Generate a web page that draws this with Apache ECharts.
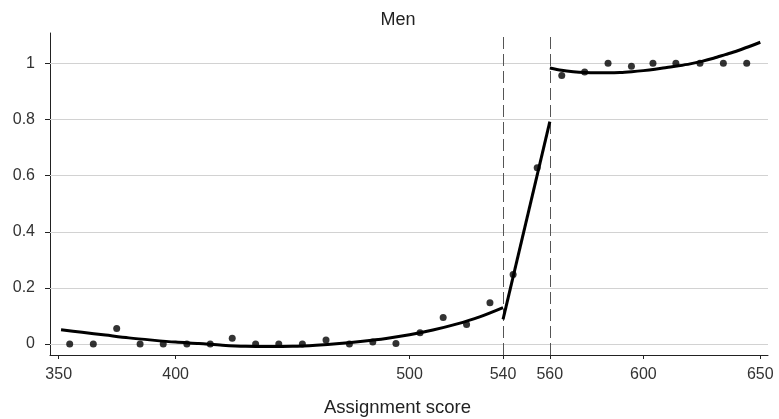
<!DOCTYPE html>
<html>
<head>
<meta charset="utf-8">
<script src="https://cdn.jsdelivr.net/npm/echarts@6/dist/echarts.min.js"></script>
<style>
  html, body { margin: 0; padding: 0; background: #fff; }
  #chart { width: 779px; height: 419px; }
</style>
</head>
<body>
<div id="chart"></div>
<script>
// Binned share of applicants (by assignment score) and fitted regression curves
const binScores = [354.7, 364.8, 374.8, 384.8, 394.7, 404.8, 414.8, 424.2, 434.2, 444.1,
                   454.2, 464.3, 474.3, 484.3, 494.2, 504.5, 514.4, 524.4, 534.4, 544.3,
                   554.6, 565.1, 574.9, 584.9, 594.9, 604.1, 613.9, 624.2, 634.2, 644.2];
const binShares = [0, 0, 0.055, 0, 0, 0, 0, 0.021, 0, 0,
                   0, 0.014, 0, 0.007, 0.002, 0.04, 0.095, 0.07, 0.147, 0.248,
                   0.628, 0.957, 0.969, 1.0, 0.99, 1.0, 1.0, 1.0, 1.0, 1.0];

// Fitted curve below the lower cutoff
const fitLowX = [351, 360, 370, 380, 390, 400, 410, 420, 430, 440, 450, 460, 470, 480, 490, 500, 510, 520, 530, 540];
const fitLowY = [0.051, 0.042, 0.032, 0.022, 0.014, 0.007, 0.002, -0.004, -0.008, -0.009, -0.008, -0.004, 0.002, 0.010, 0.020, 0.033, 0.050, 0.071, 0.097, 0.130];
// Fitted line between the two cutoffs
const fitMidX = [540, 560];
const fitMidY = [0.088, 0.792];
// Fitted curve above the upper cutoff
const fitHighX = [560, 565, 570, 575, 580, 585, 590, 595, 600, 605, 610, 615, 620, 625, 630, 635, 640, 645, 650];
const fitHighY = [0.983, 0.975, 0.970, 0.967, 0.966, 0.966, 0.967, 0.970, 0.974, 0.979, 0.985, 0.991, 0.998, 1.007, 1.018, 1.031, 1.044, 1.059, 1.075];

const cutoffs = [540, 560];
const xTicks = [350, 400, 500, 540, 560, 600, 650];
const yTicks = [0, 0.2, 0.4, 0.6, 0.8, 1];

const titleText = 'Men';
const xAxisTitle = 'Assignment score';

const zip = (xs, ys) => xs.map((x, i) => [x, ys[i]]);
const FONT = 'Liberation Sans, Arial, Helvetica, sans-serif';

const chart = echarts.init(document.getElementById('chart'), null, { renderer: 'canvas' });

const fitStyle = { color: '#000', width: 3 };

chart.setOption({
  animation: false,
  backgroundColor: '#fff',
  grid: { left: 50, right: 11, top: 33, bottom: 64, containLabel: false },
  graphic: [
    {
      type: 'text', x: 398, y: 20,
      style: { text: titleText, font: '18px ' + FONT, fill: '#222', align: 'center', verticalAlign: 'middle' }
    },
    {
      type: 'text', x: 397.5, y: 408,
      style: { text: xAxisTitle, font: '18.5px ' + FONT, fill: '#222', align: 'center', verticalAlign: 'middle' }
    }
  ],
  xAxis: {
    type: 'value',
    min: 346.28,
    max: 653.29,
    axisLine: { show: true, onZero: false, lineStyle: { color: '#222', width: 1 } },
    axisTick: { show: true, length: 4, customValues: xTicks, lineStyle: { color: '#222' } },
    axisLabel: { customValues: xTicks, color: '#333', fontSize: 16, fontFamily: FONT, margin: 12 },
    splitLine: { show: false }
  },
  yAxis: {
    type: 'value',
    min: -0.039,
    max: 1.108,
    axisLine: { show: true, onZero: false, lineStyle: { color: '#222', width: 1 } },
    axisTick: { show: true, length: 5, customValues: yTicks, lineStyle: { color: '#222' } },
    axisLabel: { customValues: yTicks, color: '#333', fontSize: 16, fontFamily: FONT, margin: 15 },
    splitLine: { show: false }
  },
  series: [
    {
      // horizontal reference lines at the y ticks, plus the two cutoff markers
      type: 'line',
      data: [],
      silent: true,
      z: 1,
      markLine: {
        silent: true,
        z: 1,
        symbol: 'none',
        label: { show: false },
        animation: false,
        data: [
          ...yTicks.map(v => ({ yAxis: v, lineStyle: { color: '#d2d2d2', width: 1, type: 'solid' } })),
          ...cutoffs.map(v => ({ xAxis: v, lineStyle: { color: '#555', width: 1, type: [12, 5] } }))
        ]
      }
    },
    {
      type: 'line', data: zip(fitLowX, fitLowY), smooth: 0.3, showSymbol: false,
      lineStyle: fitStyle, z: 3, silent: true
    },
    {
      type: 'line', data: zip(fitMidX, fitMidY), showSymbol: false,
      lineStyle: fitStyle, z: 3, silent: true
    },
    {
      type: 'line', data: zip(fitHighX, fitHighY), smooth: 0.3, showSymbol: false,
      lineStyle: fitStyle, z: 3, silent: true
    },
    {
      type: 'scatter', data: zip(binScores, binShares), symbol: 'circle', symbolSize: 7,
      itemStyle: { color: '#000' }, z: 4, silent: true
    }
  ]
});
</script>
</body>
</html>
